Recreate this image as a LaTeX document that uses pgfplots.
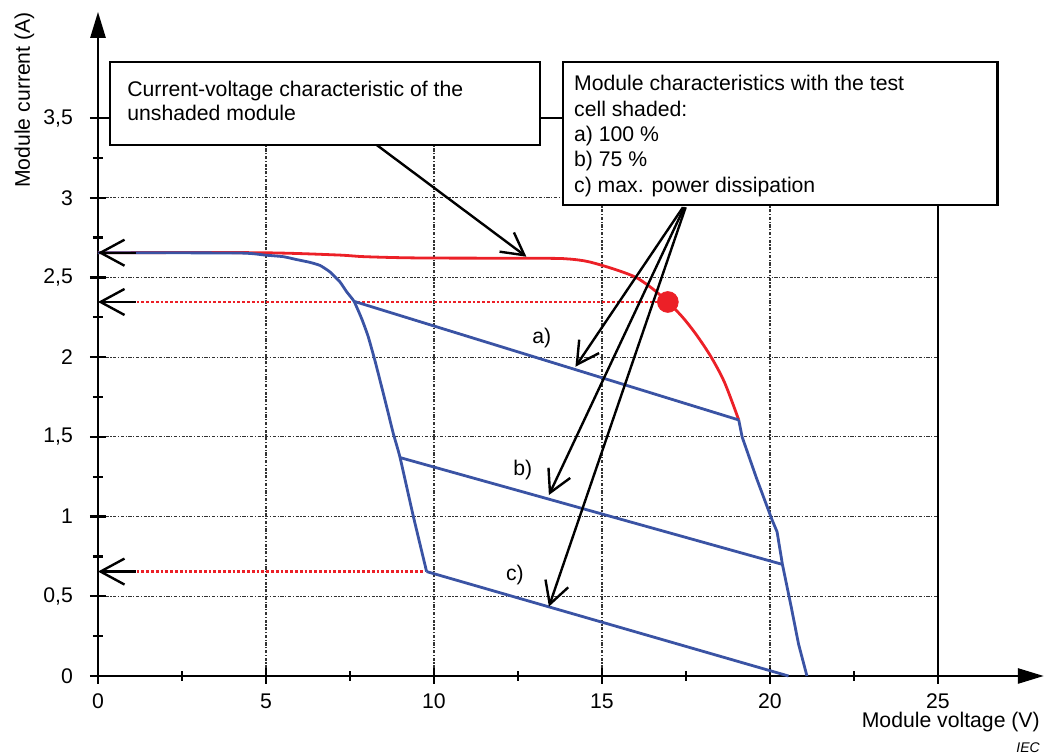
\documentclass[border=0pt]{standalone}
\usepackage{fontspec}
\setmainfont{Liberation Sans}
\setsansfont{Liberation Sans}
\usepackage{pgfplots}
\pgfplotsset{compat=1.18}
\usetikzlibrary{arrows.meta}
\definecolor{cblue}{RGB}{58,83,164}
\definecolor{cred}{RGB}{236,32,39}
\newcommand{\fs}{\fontsize{10.6}{12.7}\selectfont}
\begin{document}
\begin{tikzpicture}
\begin{axis}[
  scale only axis, width=420pt, height=279pt,
  xmin=0, xmax=25, ymin=0, ymax=3.5,
  clip=false,
  axis line style={line width=1.3pt, black},
  xtick={0,5,...,25}, xticklabels={0,5,10,15,20,25},
  ytick={0,0.5,...,3.5}, yticklabels={0,{0,5},1,{1,5},2,{2,5},3,{3,5}},
  minor xtick={2.5,7.5,...,22.5}, minor ytick={0.25,0.75,...,3.25},
  xtick pos=left, ytick pos=left,
  tick align=center,
  major tick length=8pt, minor tick length=5pt,
  tick style={black, line width=1.2pt},
  minor tick style={black, line width=1.2pt},
  grid=major,
  major grid style={black!80, line width=0.55pt, dash pattern=on 1.6pt off 0.8pt on 0.6pt off 0.8pt},
  tick label style={font=\fs},
  yticklabel style={xshift=-5pt},
  xticklabel style={yshift=-1.5pt},
]
% red dotted guide lines
\addplot[cred, line width=1.3pt, dash pattern=on 1.4pt off 1pt] coordinates {(1.15,2.346) (16.96,2.346)};
\addplot[cred, line width=1.3pt, dash pattern=on 1.4pt off 1pt] coordinates {(1.15,0.655) (9.7,0.655)};
% unshaded module
\addplot[cred, line width=1.4pt, smooth, tension=0.5] coordinates {
(0,2.655) (4.8,2.655) (7.1,2.641) (7.95,2.63) (9.63,2.622) (13.3,2.62)
(14.05,2.615) (14.57,2.60) (15.09,2.57) (15.6,2.535) (16.04,2.497) (16.5,2.43)
(16.96,2.346) (17.4,2.25) (17.81,2.14) (18.25,2.0) (18.65,1.84) (19.07,1.606)};
% shaded module envelope
\addplot[cblue, line width=1.4pt, smooth, tension=0.3] coordinates {
(0,2.655) (4.23,2.653) (4.97,2.64) (5.52,2.63) (5.91,2.612) (6.3,2.595) (6.61,2.575)
(6.90,2.535) (7.20,2.472) (7.40,2.41) (7.62,2.35) (7.85,2.24) (8.04,2.13)
(8.24,1.98) (8.39,1.857) (8.59,1.69) (8.79,1.52) (8.99,1.37) (9.38,1.006) (9.78,0.655)};
\addplot[cblue, line width=1.4pt] coordinates {(7.62,2.35) (19.07,1.606)};
\addplot[cblue, line width=1.4pt] coordinates {(8.99,1.37) (20.37,0.70)};
\addplot[cblue, line width=1.4pt] coordinates {(9.78,0.655) (20.55,0)};
\addplot[cblue, line width=1.4pt] coordinates {
(19.07,1.606) (19.17,1.50) (19.6,1.24) (20.06,0.98) (20.21,0.905) (20.37,0.70)
(20.63,0.435) (20.85,0.2) (21.1,0)};
% operating point
\addplot[only marks, mark=*, mark size=5.2pt, cred] coordinates {(16.96,2.346)};
% frame extension arrows
\draw[line width=1.3pt, -{Triangle[length=13pt,width=7.5pt]}] (axis cs:25,0) -- (axis cs:28.15,0);
\draw[line width=1.3pt, -{Triangle[length=13pt,width=7.5pt]}] (axis cs:0,3.5) -- (axis cs:0,4.166);
% left pointing arrows
\draw[line width=1.2pt, -{Straight Barb[length=12pt,width=13pt]}] (axis cs:1.12,2.655) -- (axis cs:0,2.655);
\draw[line width=1.2pt, -{Straight Barb[length=12pt,width=13pt]}] (axis cs:1.12,2.346) -- (axis cs:0,2.346);
\draw[line width=1.2pt, -{Straight Barb[length=12pt,width=13pt]}] (axis cs:1.12,0.655) -- (axis cs:0,0.655);
% callout arrows
\draw[line width=1.2pt, -{Straight Barb[length=11pt,width=12pt]}] (axis cs:8.30,3.33) -- (axis cs:12.75,2.63);
\draw[line width=1.2pt, -{Straight Barb[length=11pt,width=12pt]}] (axis cs:17.41,2.94) -- (axis cs:14.21,1.94);
\draw[line width=1.2pt, -{Straight Barb[length=11pt,width=12pt]}] (axis cs:17.45,2.94) -- (axis cs:13.42,1.135);
\draw[line width=1.2pt, -{Straight Barb[length=11pt,width=12pt]}] (axis cs:17.49,2.94) -- (axis cs:13.42,0.435);
% curve labels
\node[font=\fs] at (axis cs:13.21,2.12) {a)};
\node[font=\fs] at (axis cs:12.64,1.29) {b)};
\node[font=\fs] at (axis cs:12.41,0.634) {c)};
% boxes
\draw[line width=1.3pt, fill=white] (axis cs:0.357,3.852) rectangle (axis cs:13.15,3.33);
\draw[line width=1.3pt, fill=white] (axis cs:13.84,3.852) rectangle (axis cs:26.77,2.955);
\node[anchor=base west, inner sep=0pt, font=\fs] at (axis cs:0.863,3.632) {Current-voltage characteristic of the};
\node[anchor=base west, inner sep=0pt, font=\fs] at (axis cs:0.863,3.483) {unshaded module};
\node[anchor=base west, inner sep=0pt, font=\fs] at (axis cs:14.16,3.672) {Module characteristics with the test};
\node[anchor=base west, inner sep=0pt, font=\fs] at (axis cs:14.16,3.509) {cell shaded:};
\node[anchor=base west, inner sep=0pt, font=\fs] at (axis cs:14.16,3.352) {a) 100 \%};
\node[anchor=base west, inner sep=0pt, font=\fs] at (axis cs:14.16,3.195) {b) 75 \%};
\node[anchor=base west, inner sep=0pt, font=\fs] at (axis cs:14.16,3.032) {c) max. power dissipation};
% axis titles
\node[anchor=base west, rotate=90, inner sep=0pt, font=\fs] at (axis cs:-2.024,3.06) {Module current (A)};
\node[anchor=base east, inner sep=0pt, font=\fs] at (axis cs:28.04,-0.326) {Module voltage (V)};
\node[anchor=base east, inner sep=0pt, font=\fontsize{7}{8}\selectfont\itshape] at (axis cs:28.04,-0.48) {IEC};
\end{axis}
\pgfresetboundingbox
\path[use as bounding box] (-49pt,-39.5pt) rectangle (474pt,338pt);
\end{tikzpicture}
\end{document}
